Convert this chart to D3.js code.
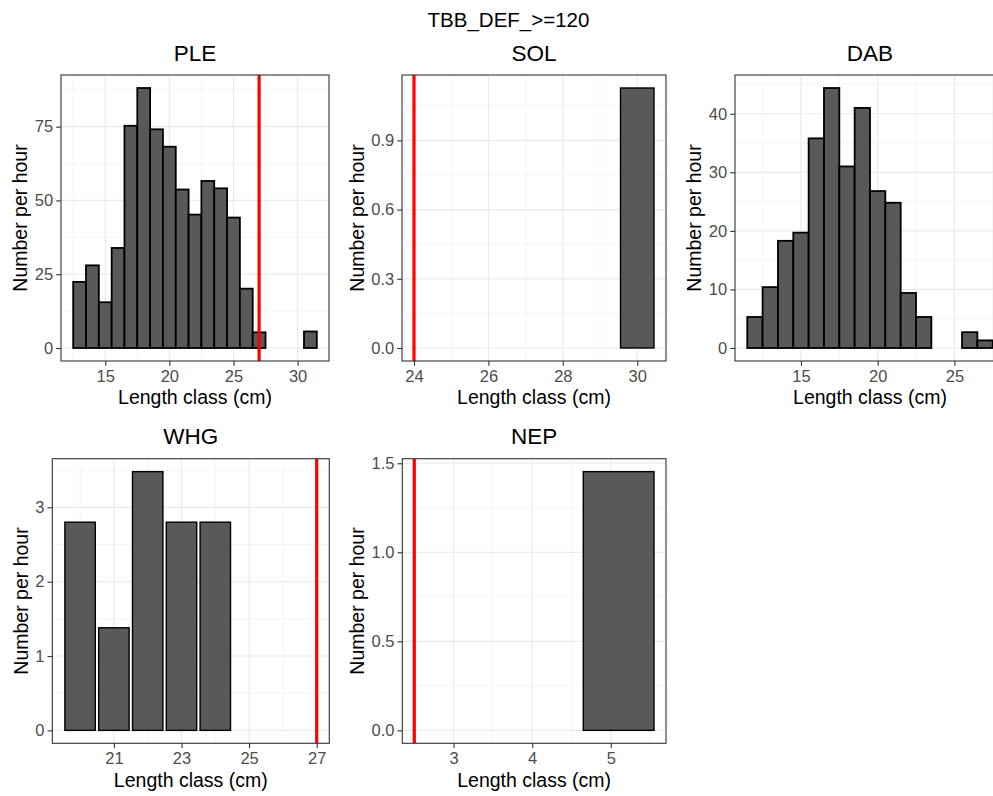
<!DOCTYPE html>
<html>
<head>
<meta charset="utf-8">
<script src="https://cdn.jsdelivr.net/npm/d3@7"></script>
<style>
  body { margin: 0; background: #fff; }
  text { font-family: "Liberation Sans", Arial, sans-serif; }
</style>
</head>
<body>
<script>
// data
const mainTitle = "TBB_DEF_>=120";
const species = ["PLE", "SOL", "DAB", "WHG", "NEP"];

const pleLength = [13, 14, 15, 16, 17, 18, 19, 20, 21, 22, 23, 24, 25, 26, 27, 31];
const pleNumber = [22.4, 28.0, 15.5, 33.9, 75.3, 88.1, 74.1, 68.2, 53.7, 45.2, 56.6, 54.1, 44.2, 20.1, 5.3, 5.6];
const solLength = [30];
const solNumber = [1.127];
const dabLength = [12, 13, 14, 15, 16, 17, 18, 19, 20, 21, 22, 23, 26, 27];
const dabNumber = [5.3, 10.4, 18.3, 19.7, 35.8, 44.4, 31.0, 41.0, 26.8, 24.8, 9.4, 5.3, 2.7, 1.3];
const whgLength = [20, 21, 22, 23, 24];
const whgNumber = [2.80, 1.38, 3.48, 2.80, 2.80];
const nepLength = [5.1];
const nepNumber = [1.453];

// minimum landing size (red line), DAB has none
const minSize = [27, 24, null, 27, 2.5];

const xTicks = [[15, 20, 25, 30], [24, 26, 28, 30], [15, 20, 25], [21, 23, 25, 27], [3, 4, 5]];
const yTicks = [[0, 25, 50, 75], [0, 0.3, 0.6, 0.9], [0, 10, 20, 30, 40], [0, 1, 2, 3], [0, 0.5, 1, 1.5]];
const yFormats = ["d", ".1f", "d", "d", ".1f"];

const lengths = [pleLength, solLength, dabLength, whgLength, nepLength];
const numbers = [pleNumber, solNumber, dabNumber, whgNumber, nepNumber];
const barWidth = [1, 0.9, 1, 0.9, 0.9];

// panel boxes in pixels
const boxes = [
  {x0: 61, x1: 329, y0: 75, y1: 361},
  {x0: 402, x1: 666, y0: 75, y1: 361},
  {x0: 735, x1: 1005, y0: 75, y1: 361},
  {x0: 52.3, x1: 329.3, y0: 458.7, y1: 743.3},
  {x0: 402.3, x1: 666, y0: 458.7, y1: 743.3}
];

let width = 993;
let height = 796;

let svg = d3.select("body").append("svg")
  .attr("width", width)
  .attr("height", height);

svg.append("text")
  .attr("x", 508.5)
  .attr("y", 27.3)
  .attr("text-anchor", "middle")
  .style("font-size", "20.5px")
  .text(mainTitle);

function minorBreaks(ticks, domain) {
  let step = ticks[1] - ticks[0];
  let res = [];
  for (let v = ticks[0] - step / 2; v <= domain[1]; v += step) {
    if (v >= domain[0]) res.push(v);
  }
  return res;
}

function drawPanel(i) {
  let box = boxes[i];
  let data = lengths[i].map((l, j) => ({len: l, num: numbers[i][j]}));
  let w = barWidth[i];

  let xLo = d3.min(data, d => d.len) - w / 2;
  let xHi = d3.max(data, d => d.len) + w / 2;
  if (minSize[i] !== null) {
    xLo = Math.min(xLo, minSize[i]);
    xHi = Math.max(xHi, minSize[i]);
  }
  let padX = (xHi - xLo) * 0.05;
  let yMax = d3.max(data, d => d.num);

  let scaleX = d3.scaleLinear().domain([xLo - padX, xHi + padX]).range([box.x0, box.x1]);
  let scaleY = d3.scaleLinear().domain([-yMax * 0.05, yMax * 1.05]).range([box.y1, box.y0]);

  let g = svg.append("g");

  g.append("clipPath").attr("id", "clip" + i)
    .append("rect")
    .attr("x", box.x0).attr("y", box.y0)
    .attr("width", box.x1 - box.x0).attr("height", box.y1 - box.y0);

  let inner = g.append("g").attr("clip-path", `url(#clip${i})`);

  // minor grid
  minorBreaks(xTicks[i], scaleX.domain()).forEach(v => {
    inner.append("line")
      .attr("x1", scaleX(v)).attr("x2", scaleX(v))
      .attr("y1", box.y0).attr("y2", box.y1)
      .attr("stroke", "#f2f2f2").attr("stroke-width", 0.8);
  });
  minorBreaks(yTicks[i], scaleY.domain()).forEach(v => {
    inner.append("line")
      .attr("x1", box.x0).attr("x2", box.x1)
      .attr("y1", scaleY(v)).attr("y2", scaleY(v))
      .attr("stroke", "#f2f2f2").attr("stroke-width", 0.8);
  });
  // major grid
  xTicks[i].forEach(v => {
    inner.append("line")
      .attr("x1", scaleX(v)).attr("x2", scaleX(v))
      .attr("y1", box.y0).attr("y2", box.y1)
      .attr("stroke", "#ebebeb").attr("stroke-width", 1.2);
  });
  yTicks[i].forEach(v => {
    inner.append("line")
      .attr("x1", box.x0).attr("x2", box.x1)
      .attr("y1", scaleY(v)).attr("y2", scaleY(v))
      .attr("stroke", "#ebebeb").attr("stroke-width", 1.2);
  });

  // bars
  inner.selectAll(".bar")
    .data(data)
    .enter()
    .append("rect")
    .attr("x", d => scaleX(d.len - w / 2))
    .attr("width", d => scaleX(d.len + w / 2) - scaleX(d.len - w / 2))
    .attr("y", d => scaleY(d.num))
    .attr("height", d => scaleY(0) - scaleY(d.num))
    .style("fill", "#595959")
    .style("stroke", "#000")
    .style("stroke-width", w === 1 ? 1.8 : 1.4);

  // minimum size line
  if (minSize[i] !== null) {
    inner.append("line")
      .attr("x1", scaleX(minSize[i])).attr("x2", scaleX(minSize[i]))
      .attr("y1", box.y0).attr("y2", box.y1)
      .attr("stroke", "#ff0000").attr("stroke-width", 3.2);
  }

  // border
  g.append("rect")
    .attr("x", box.x0).attr("y", box.y0)
    .attr("width", box.x1 - box.x0).attr("height", box.y1 - box.y0)
    .attr("fill", "none").attr("stroke", "#333333").attr("stroke-width", 1.1);

  // axes
  let axisX = d3.axisBottom(scaleX).tickValues(xTicks[i]).tickFormat(d3.format("d"))
    .tickSize(4.8).tickPadding(4.5);
  let axisY = d3.axisLeft(scaleY).tickValues(yTicks[i]).tickFormat(d3.format(yFormats[i]))
    .tickSize(4.8).tickPadding(3);

  let gx = g.append("g").attr("transform", `translate(0, ${box.y1})`).call(axisX);
  let gy = g.append("g").attr("transform", `translate(${box.x0}, 0)`).call(axisY);
  [gx, gy].forEach(a => {
    a.select(".domain").remove();
    a.selectAll(".tick line").attr("stroke", "#333333").attr("stroke-width", 1.1);
    a.selectAll(".tick text")
      .attr("fill", "#4d4d4d")
      .style("font-size", "16.5px")
      .style("font-family", "'Liberation Sans', Arial, sans-serif");
  });

  let cx = (box.x0 + box.x1) / 2;
  let cy = (box.y0 + box.y1) / 2;

  // panel title
  g.append("text")
    .attr("x", cx).attr("y", box.y0 - 14.3)
    .attr("text-anchor", "middle")
    .style("font-size", "22.5px")
    .text(species[i]);

  // axis titles
  g.append("text")
    .attr("x", cx).attr("y", box.y1 + 43.3)
    .attr("text-anchor", "middle")
    .style("font-size", "19.5px")
    .text("Length class (cm)");

  let bb = gy.node().getBBox();
  g.append("text")
    .attr("transform", `translate(${box.x0 + bb.x - 7.5}, ${cy}) rotate(-90)`)
    .attr("text-anchor", "middle")
    .style("font-size", "19.5px")
    .text("Number per hour");
}

for (let i = 0; i < species.length; i++) {
  drawPanel(i);
}
</script>
</body>
</html>
